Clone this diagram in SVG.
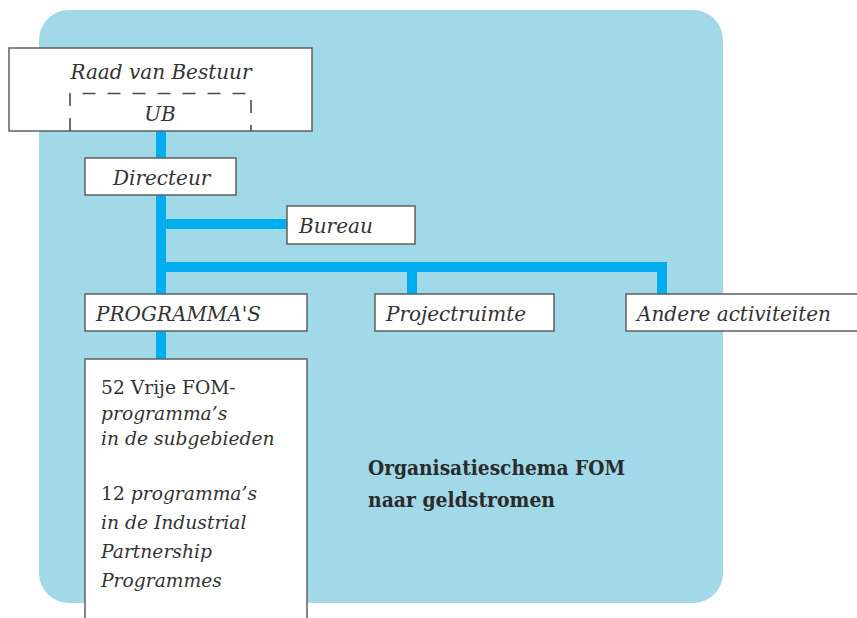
<svg xmlns="http://www.w3.org/2000/svg" width="857" height="618" viewBox="0 0 857 618">
  <style>
    .box { fill: #ffffff; stroke: #5f5f5f; stroke-width: 1.5; }
    .dash { fill: none; stroke: #4a4a4a; stroke-width: 1.6; stroke-dasharray: 13 12; }
    .lbl { font-family: "DejaVu Serif", "Liberation Serif", serif; font-style: italic; font-size: 20px; fill: #333333; }
    .body { font-family: "DejaVu Serif", "Liberation Serif", serif; font-style: italic; font-size: 18.7px; fill: #333333; }
    .up { font-style: normal; }
    .title { font-family: "DejaVu Serif", "Liberation Serif", serif; font-weight: bold; font-size: 20px; fill: #2b2b2b; }
    .conn { fill: none; stroke: #00aeef; stroke-width: 10; stroke-linejoin: miter; stroke-linecap: butt; }
  </style>
  <rect id="background" x="39" y="10" width="684" height="593" rx="30" ry="30" fill="#a1d9e8"/>
  <g id="connectors">
    <line class="conn" x1="161" y1="131" x2="161" y2="294"/>
    <line class="conn" x1="161" y1="224" x2="287" y2="224"/>
    <path class="conn" d="M161,267 H662 V294"/>
    <line class="conn" x1="412" y1="267" x2="412" y2="294"/>
    <line class="conn" x1="161" y1="331" x2="161" y2="359"/>
  </g>
  <g id="raad-van-bestuur">
    <rect class="box" x="9" y="48" width="303" height="83"/>
    <text class="lbl" x="161" y="79" text-anchor="middle">Raad van Bestuur</text>
    <g id="ub">
      <path class="dash" d="M70,131 V93.5 H251 V131"/>
      <text class="lbl" x="160" y="121" text-anchor="middle">UB</text>
    </g>
  </g>
  <g id="directeur">
    <rect class="box" x="85" y="158" width="151" height="37"/>
    <text class="lbl" x="113" y="185">Directeur</text>
  </g>
  <g id="bureau">
    <rect class="box" x="287" y="206" width="128" height="38"/>
    <text class="lbl" x="299" y="233">Bureau</text>
  </g>
  <g id="programmas">
    <rect class="box" x="85" y="294" width="222" height="37"/>
    <text class="lbl" x="96" y="321">PROGRAMMA'S</text>
  </g>
  <g id="projectruimte">
    <rect class="box" x="375" y="294" width="179" height="37"/>
    <text class="lbl" x="386" y="321">Projectruimte</text>
  </g>
  <g id="andere-activiteiten">
    <rect class="box" x="626" y="294" width="250" height="37"/>
    <text class="lbl" x="637" y="321">Andere activiteiten</text>
  </g>
  <g id="programma-lijst">
    <rect class="box" x="85" y="359" width="222" height="270"/>
    <text class="body" x="101" y="394"><tspan class="up">52 Vrije FOM-</tspan></text>
    <text class="body" x="101" y="419.5">programma’s</text>
    <text class="body" x="101" y="445">in de subgebieden</text>
    <text class="body" x="101" y="499.5"><tspan class="up">12 </tspan>programma’s</text>
    <text class="body" x="101" y="528.5">in de Industrial</text>
    <text class="body" x="101" y="558">Partnership</text>
    <text class="body" x="101" y="587">Programmes</text>
  </g>
  <g id="titel">
    <text class="title" x="368" y="475" textLength="257" lengthAdjust="spacingAndGlyphs">Organisatieschema FOM</text>
    <text class="title" x="368" y="507" textLength="187" lengthAdjust="spacingAndGlyphs">naar geldstromen</text>
  </g>
</svg>
